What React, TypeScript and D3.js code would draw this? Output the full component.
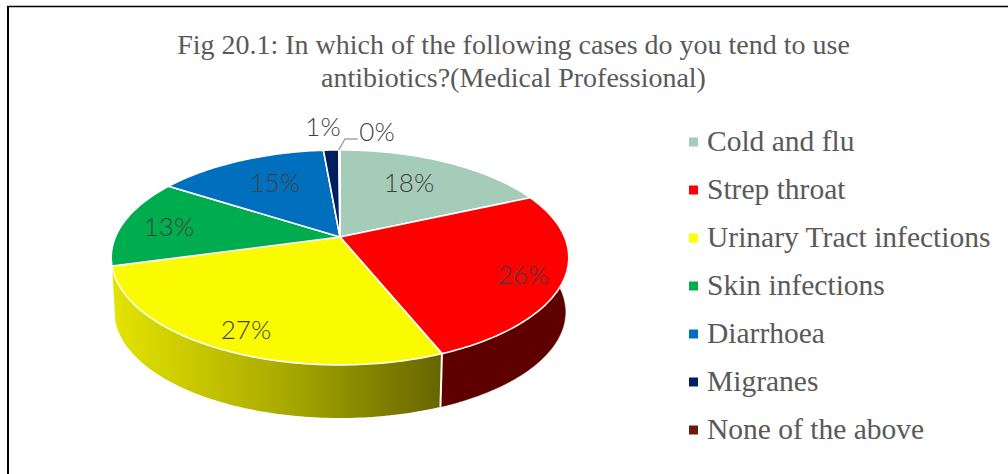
import React from "react";
import * as d3 from "d3";

const categories = ["Cold and flu", "Strep throat", "Urinary Tract infections", "Skin infections", "Diarrhoea", "Migranes", "None of the above"];
const values = [18.3, 25.6, 26.8, 13.4, 14.5, 1.3, 0.1];
const sliceColors = ["#a5cbb9", "#ff0000", "#fbfb00", "#00ad4e", "#006fbd", "#001f5f", "#641e0c"];
const legendColors = ["#a5cbb9", "#ff0000", "#ffff00", "#00b050", "#0070c0", "#002060", "#6a1b0a"];
const titleLines = ["Fig 20.1: In which of the following cases do you tend to use", "antibiotics?(Medical Professional)"];
const labelCenters: [number, number][] = [[409, 183], [523, 275], [246, 330], [169, 227], [275, 183], [323, 127], [377, 132]];

const W = 1008, H = 474;
const cx = 340, cy = 237, A = 224.6, B = 103.6, persp = 0.19;
const wallScale = 0.985, wallCy = 292;

// perspective projection of a disc; t is clockwise from the top
const project = (t: number, k = 1, y0 = cy): [number, number] => {
  const X = Math.sin(t), Y = -Math.cos(t);
  const d = 1 - persp * Y;
  return [cx + (k * A * X) / d, y0 + (k * B * Y) / d];
};

const arcs = d3.pie<number>().sort(null)(values);
const line = d3.line();
const samples = (a: number, b: number) => {
  const n = Math.max(2, Math.ceil((b - a) * 60));
  return d3.range(n + 1).map((i) => a + ((b - a) * i) / n);
};
const legendY = d3.scalePoint<string>().domain(categories).range([142, 430]);

export default function App() {
  const topPath = (a: number, b: number) =>
    line([[cx, cy], ...samples(a, b).map((t) => project(t))])! + "Z";
  const wallPath = (a: number, b: number) => {
    const ts = samples(a, b);
    return line([...ts.map((t) => project(t)), ...ts.slice().reverse().map((t) => project(t, wallScale, wallCy))])! + "Z";
  };
  return (
    <svg width={W} height={H} style={{ position: "absolute", left: 0, top: 0, background: "#fff" }}>
      <defs>
        <linearGradient id="yw" gradientUnits="userSpaceOnUse" x1={113} x2={441} y1={0} y2={0}>
          <stop offset="0" stopColor="#e4e400" />
          <stop offset="0.5" stopColor="#acac00" />
          <stop offset="1" stopColor="#666600" />
        </linearGradient>
      </defs>
      <path d="M8 474V6" fill="none" stroke="#000" strokeWidth={2} />
      <path d="M7 6.5H1008" fill="none" stroke="#000" strokeWidth={1.5} />
      {titleLines.map((t, i) => (
        <text key={i} x={513.5} y={54 + i * 33} textAnchor="middle" fontFamily="Liberation Serif" fontSize={28} fill="#595959">{t}</text>
      ))}
      {/* side walls */}
      <path d={wallPath(arcs[1].startAngle, arcs[1].endAngle)} fill="#5f0000" stroke="#5f0000" strokeWidth={0.5} />
      <path d={wallPath(arcs[2].startAngle, arcs[2].endAngle)} fill="url(#yw)" />
      <path d={line([project(arcs[1].endAngle), project(arcs[1].endAngle, wallScale, wallCy)])!} stroke="#fff" strokeWidth={2} fill="none" />
      {/* top face */}
      {arcs.map((a, i) => (
        <path key={i} d={topPath(a.startAngle, a.endAngle)} fill={sliceColors[i]} stroke="#fff" strokeWidth={1.6} strokeLinejoin="round" />
      ))}
      {/* leader line */}
      <path d={line([project(arcs[6].startAngle), [345, 139], [358, 139]])!} fill="none" stroke="#a6a6a6" strokeWidth={1.5} />
      {arcs.map((a, i) => (
        <text key={i} x={labelCenters[i][0]} y={labelCenters[i][1] + 9} textAnchor="middle" fontFamily="Lato" fontWeight={300} fontSize={26} fill="#404040">
          {Math.round(values[i])}%
        </text>
      ))}
      {categories.map((c, i) => (
        <g key={c}>
          <rect x={689} y={legendY(c)! - 4.5} width={9} height={9} fill={legendColors[i]} />
          <text x={707} y={legendY(c)! + 9} fontFamily="Liberation Serif" fontSize={29.5} fill="#595959">{c}</text>
        </g>
      ))}
    </svg>
  );
}
